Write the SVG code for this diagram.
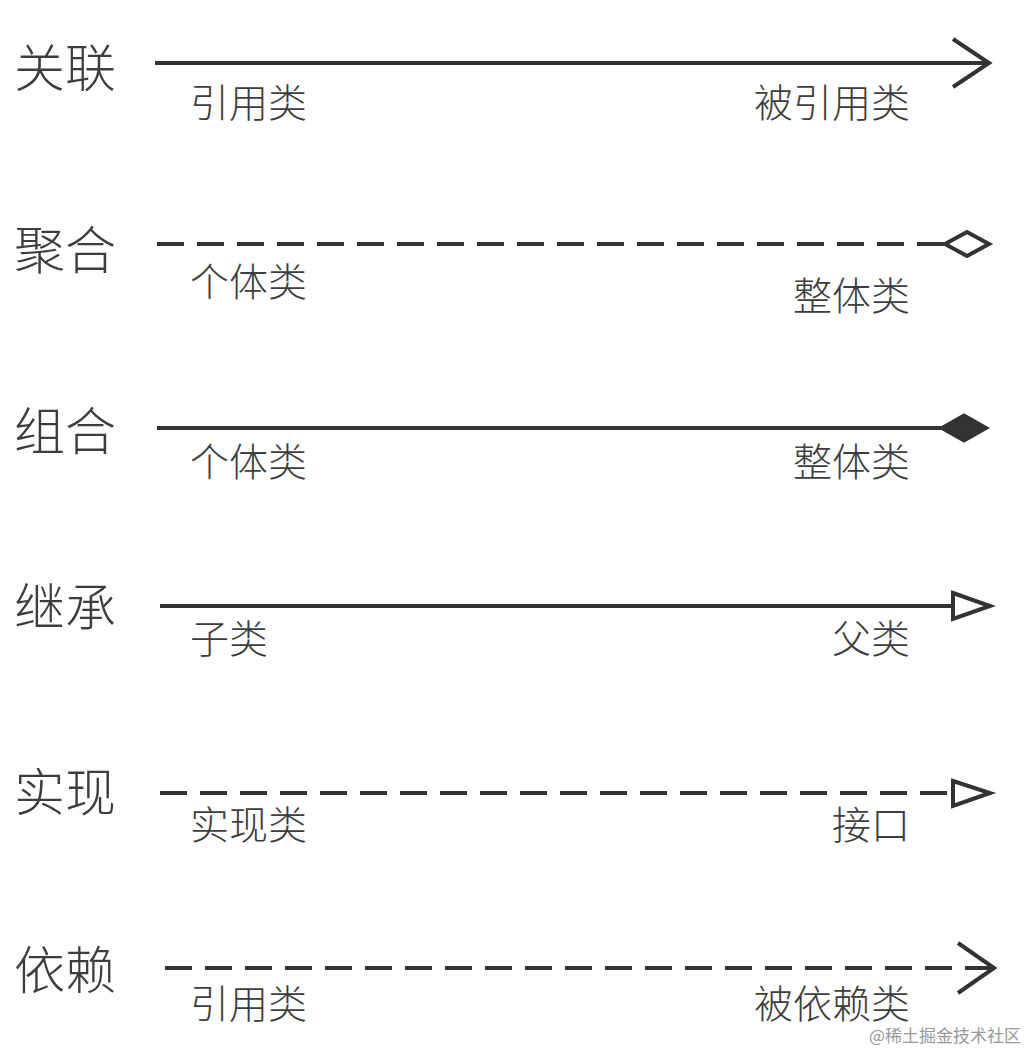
<svg xmlns="http://www.w3.org/2000/svg" width="1029" height="1051" viewBox="0 0 1029 1051">
<style>
.t{font-family:"Noto Sans CJK SC","Noto Sans",sans-serif;fill:#3d3d3d;font-weight:300}
.big{font-size:51px}
.sm{font-size:39px}
.ln{stroke:#333;stroke-width:4;fill:none}
.dash{stroke-dasharray:27 13}
.hollow{stroke:#333;stroke-width:4;fill:#fff;stroke-linejoin:miter}
.solid{stroke:#333;stroke-width:3;fill:#333}
.wm{font-family:"Noto Sans CJK SC",sans-serif;font-size:17px;fill:#999}
</style>
<rect width="1029" height="1051" fill="#fff"/>
<g id="labels">
<text class="t big" x="14" y="87">关联</text>
<text class="t big" x="14" y="269">聚合</text>
<text class="t big" x="14" y="450">组合</text>
<text class="t big" x="14" y="626">继承</text>
<text class="t big" x="14" y="811">实现</text>
<text class="t big" x="14" y="989">依赖</text>
</g>
<g id="connectors">
<line class="ln" x1="155" y1="63" x2="986" y2="63"/>
<polyline class="ln" points="953,39 989,63 953,87"/>
<line class="ln dash" x1="157" y1="244" x2="945" y2="244"/>
<polygon class="hollow" points="945,244 967,232 989,244 967,256"/>
<line class="ln" x1="157" y1="428" x2="942" y2="428"/>
<polygon class="solid" points="941,428 964,415 987,428 964,441"/>
<line class="ln" x1="160" y1="606" x2="953" y2="606"/>
<polygon class="hollow" points="953,593 990,606 953,619"/>
<line class="ln dash" x1="160" y1="793" x2="953" y2="793"/>
<polygon class="hollow" points="953,781 990,793 953,806"/>
<line class="ln dash" x1="165" y1="968" x2="992" y2="968"/>
<polyline class="ln" points="958,943 994,968 958,993"/>
</g>
<g id="ends">
<text class="t sm" x="190" y="117">引用类</text>
<text class="t sm" x="910" y="117" text-anchor="end">被引用类</text>
<text class="t sm" x="190" y="296">个体类</text>
<text class="t sm" x="910" y="310" text-anchor="end">整体类</text>
<text class="t sm" x="190" y="476">个体类</text>
<text class="t sm" x="910" y="476" text-anchor="end">整体类</text>
<text class="t sm" x="190" y="653">子类</text>
<text class="t sm" x="910" y="653" text-anchor="end">父类</text>
<text class="t sm" x="190" y="839">实现类</text>
<text class="t sm" x="910" y="839" text-anchor="end">接口</text>
<text class="t sm" x="190" y="1018">引用类</text>
<text class="t sm" x="910" y="1018" text-anchor="end">被依赖类</text>
</g>
<text class="wm" x="1021" y="1042" text-anchor="end">@稀土掘金技术社区</text>
</svg>
